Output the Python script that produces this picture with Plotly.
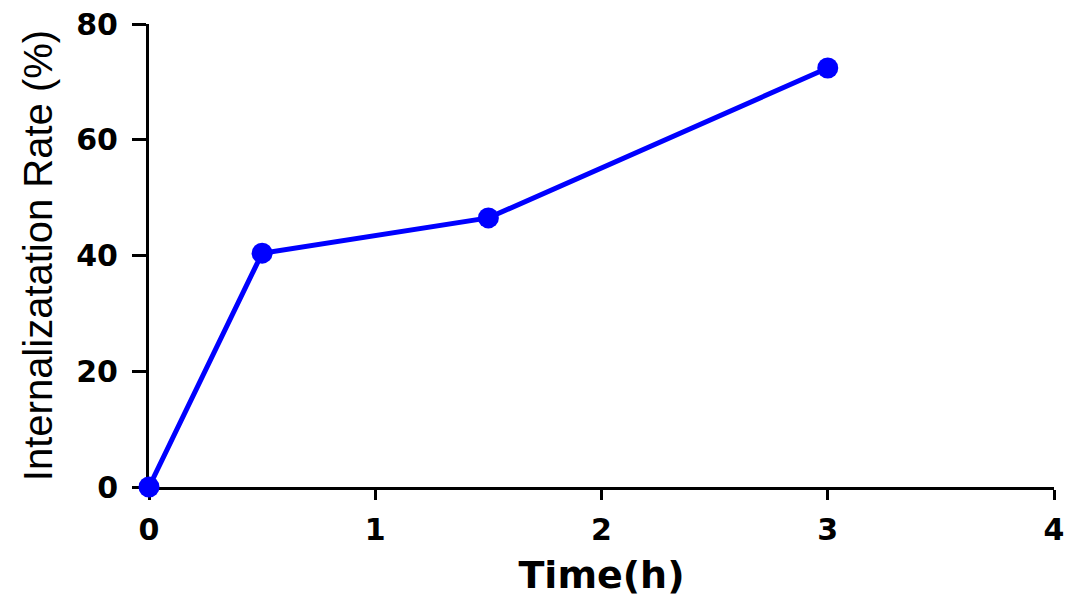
import plotly.graph_objects as go

time_h = [0, 0.5, 1.5, 3]
rate_pct = [0, 40.4, 46.5, 72.4]
x_ticks = [0, 1, 2, 3, 4]
y_ticks = [0, 20, 40, 60, 80]

fig = go.Figure()
fig.add_trace(go.Scatter(
    x=time_h, y=rate_pct, mode="lines+markers",
    line=dict(color="#0000FF", width=5),
    marker=dict(color="#0000FF", size=21),
    cliponaxis=False, showlegend=False,
))

tickfont = dict(family="DejaVu Sans, Liberation Sans, sans-serif", size=30, color="black", weight="bold")

fig.update_layout(
    width=1080, height=609,
    margin=dict(l=149, r=26, t=24, b=122),
    plot_bgcolor="white", paper_bgcolor="white",
    xaxis=dict(
        range=[0, 4], tickvals=x_ticks, ticktext=[str(v) for v in x_ticks],
        showgrid=False, zeroline=False, showline=True, linecolor="black", linewidth=3,
        ticks="outside", ticklen=10, tickwidth=3, tickcolor="black",
        tickfont=tickfont, layer="below traces", ticklabelstandoff=4, automargin=False,
        title=dict(text="Time(h)", standoff=16,
                   font=dict(family="DejaVu Sans, Liberation Sans, sans-serif", size=38, color="black", weight="bold")),
    ),
    yaxis=dict(
        range=[0, 80], tickvals=y_ticks, ticktext=[str(v) for v in y_ticks],
        showgrid=False, zeroline=False, showline=True, linecolor="black", linewidth=3,
        ticks="outside", ticklen=14, tickwidth=3, tickcolor="black",
        tickfont=tickfont, layer="below traces", ticklabelstandoff=8, automargin=False,
        title=dict(text="Internalizatation Rate (%)", standoff=12,
                   font=dict(family="Liberation Sans, Arial, sans-serif", size=40, color="black")),
    ),
)

fig.write_html("out.html")
